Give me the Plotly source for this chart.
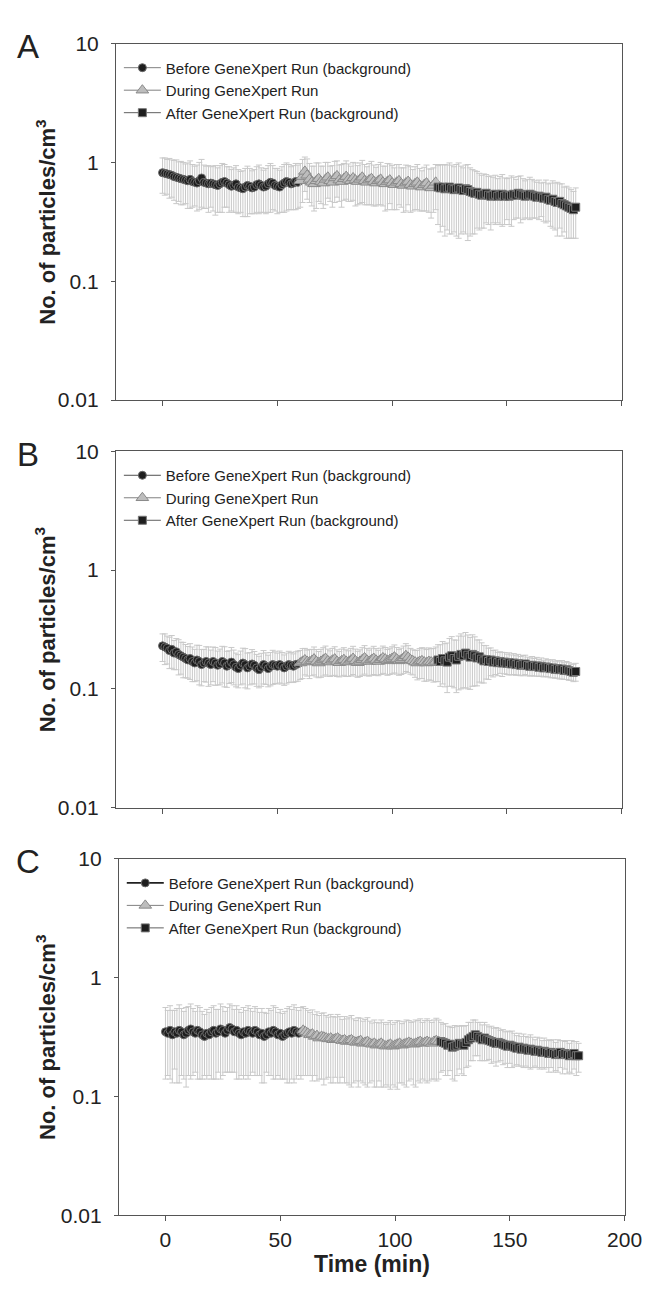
import plotly.graph_objects as go

# ---------------- data ----------------
t_before = list(range(0, 60))
t_during = list(range(60, 120))
t_after = list(range(120, 181))

series_names = ["Before GeneXpert Run (background)", "During GeneXpert Run",
                "After GeneXpert Run (background)"]
panel_labels = ["A", "B", "C"]
y_tickvals = [0.01, 0.1, 1, 10]
y_ticktext = ["0.01", "0.1", "1", "10"]
x_tickvals = [0, 50, 100, 150, 200]

# Panel A
a_before = [0.82, 0.81, 0.80, 0.79, 0.78, 0.76, 0.75, 0.74, 0.73, 0.72,
            0.71, 0.70, 0.72, 0.69, 0.68, 0.67, 0.70, 0.74, 0.68, 0.67,
            0.66, 0.67, 0.66, 0.65, 0.64, 0.66, 0.68, 0.69, 0.67, 0.65,
            0.63, 0.64, 0.66, 0.62, 0.61, 0.60, 0.62, 0.64, 0.63, 0.61,
            0.62, 0.65, 0.66, 0.64, 0.62, 0.63, 0.66, 0.68, 0.67, 0.64,
            0.63, 0.62, 0.65, 0.67, 0.69, 0.68, 0.66, 0.67, 0.69, 0.68]
a_during = [0.70, 0.76, 0.84, 0.78, 0.72, 0.68, 0.66, 0.70, 0.73, 0.69,
            0.67, 0.72, 0.75, 0.70, 0.68, 0.74, 0.77, 0.71, 0.69, 0.73,
            0.76, 0.72, 0.70, 0.74, 0.71, 0.69, 0.72, 0.75, 0.70, 0.68,
            0.71, 0.73, 0.69, 0.67, 0.70, 0.72, 0.68, 0.66, 0.69, 0.71,
            0.67, 0.65, 0.68, 0.70, 0.66, 0.64, 0.67, 0.69, 0.65, 0.63,
            0.66, 0.68, 0.64, 0.62, 0.65, 0.67, 0.63, 0.61, 0.64, 0.68]
a_after = [0.62, 0.61, 0.62, 0.60, 0.61, 0.62, 0.60, 0.59, 0.60, 0.61,
           0.59, 0.58, 0.60, 0.59, 0.57, 0.56, 0.55, 0.56, 0.54, 0.53,
           0.54, 0.55, 0.53, 0.52, 0.53, 0.54, 0.52, 0.53, 0.54, 0.52,
           0.53, 0.52, 0.53, 0.54, 0.53, 0.55, 0.54, 0.53, 0.52, 0.53,
           0.54, 0.53, 0.52, 0.51, 0.52, 0.51, 0.50, 0.51, 0.49, 0.48,
           0.49, 0.47, 0.46, 0.47, 0.45, 0.44, 0.43, 0.42, 0.41, 0.40,
           0.42]
a_before_err = [0.27, 0.28, 0.26, 0.29, 0.27, 0.28, 0.30, 0.27, 0.29, 0.28,
                0.26, 0.29, 0.31, 0.27, 0.25, 0.28, 0.30, 0.32, 0.27, 0.26,
                0.28, 0.25, 0.27, 0.29, 0.26, 0.28, 0.30, 0.27, 0.25, 0.27,
                0.24, 0.26, 0.28, 0.25, 0.23, 0.25, 0.27, 0.29, 0.26, 0.24,
                0.25, 0.27, 0.29, 0.26, 0.24, 0.26, 0.28, 0.30, 0.27, 0.25,
                0.26, 0.24, 0.27, 0.29, 0.30, 0.28, 0.26, 0.27, 0.29, 0.27]
a_during_err = [0.28, 0.30, 0.27, 0.29, 0.26, 0.25, 0.27, 0.29, 0.26, 0.24,
                0.26, 0.28, 0.25, 0.23, 0.26, 0.28, 0.26, 0.24, 0.27, 0.25,
                0.27, 0.25, 0.23, 0.26, 0.28, 0.25, 0.27, 0.29, 0.26, 0.24,
                0.27, 0.29, 0.26, 0.24, 0.26, 0.28, 0.25, 0.27, 0.29, 0.26,
                0.27, 0.25, 0.28, 0.26, 0.24, 0.26, 0.28, 0.25, 0.27, 0.24,
                0.26, 0.28, 0.25, 0.23, 0.26, 0.28, 0.25, 0.27, 0.26, 0.28]
a_after_err = [0.32, 0.35, 0.33, 0.36, 0.34, 0.37, 0.35, 0.33, 0.36, 0.38,
               0.34, 0.32, 0.35, 0.37, 0.33, 0.31, 0.30, 0.28, 0.27, 0.25,
               0.26, 0.24, 0.23, 0.25, 0.22, 0.24, 0.21, 0.23, 0.25, 0.22,
               0.20, 0.22, 0.24, 0.21, 0.19, 0.21, 0.23, 0.20, 0.18, 0.19,
               0.21, 0.19, 0.18, 0.17, 0.19, 0.16, 0.18, 0.20, 0.17, 0.19,
               0.21, 0.20, 0.22, 0.19, 0.21, 0.18, 0.20, 0.19, 0.18, 0.17,
               0.19]

# Panel B
b_before = [0.230, 0.225, 0.220, 0.210, 0.215, 0.200, 0.205, 0.195, 0.190, 0.185,
            0.180, 0.175, 0.180, 0.170, 0.165, 0.175, 0.170, 0.160, 0.165, 0.170,
            0.165, 0.160, 0.170, 0.165, 0.158, 0.162, 0.170, 0.165, 0.155, 0.160,
            0.168, 0.160, 0.152, 0.148, 0.158, 0.165, 0.160, 0.150, 0.155, 0.162,
            0.158, 0.150, 0.145, 0.152, 0.160, 0.155, 0.148, 0.154, 0.160, 0.158,
            0.155, 0.160, 0.156, 0.150, 0.155, 0.160, 0.158, 0.155, 0.160, 0.162]
b_during = [0.165, 0.170, 0.175, 0.170, 0.168, 0.172, 0.178, 0.170, 0.165, 0.170,
            0.175, 0.180, 0.172, 0.168, 0.174, 0.178, 0.170, 0.166, 0.172, 0.176,
            0.170, 0.168, 0.174, 0.180, 0.172, 0.166, 0.170, 0.176, 0.182, 0.174,
            0.170, 0.175, 0.180, 0.174, 0.170, 0.176, 0.182, 0.178, 0.172, 0.176,
            0.180, 0.185, 0.178, 0.172, 0.176, 0.182, 0.190, 0.184, 0.176, 0.172,
            0.168, 0.165, 0.170, 0.172, 0.168, 0.165, 0.170, 0.168, 0.166, 0.170]
b_after = [0.175, 0.170, 0.180, 0.172, 0.168, 0.185, 0.190, 0.180, 0.175, 0.188,
           0.195, 0.190, 0.200, 0.192, 0.185, 0.195, 0.190, 0.182, 0.186, 0.178,
           0.172, 0.176, 0.170, 0.175, 0.168, 0.172, 0.166, 0.170, 0.165, 0.168,
           0.164, 0.166, 0.162, 0.165, 0.160, 0.163, 0.158, 0.160, 0.162, 0.157,
           0.155, 0.158, 0.154, 0.156, 0.152, 0.155, 0.150, 0.153, 0.151, 0.148,
           0.150, 0.146, 0.148, 0.145, 0.147, 0.143, 0.145, 0.142, 0.140, 0.138,
           0.140]
b_before_err = [0.060, 0.065, 0.058, 0.062, 0.066, 0.055, 0.060, 0.064, 0.057, 0.061,
                0.056, 0.052, 0.060, 0.055, 0.050, 0.058, 0.062, 0.054, 0.050, 0.056,
                0.060, 0.052, 0.055, 0.058, 0.050, 0.054, 0.058, 0.061, 0.052, 0.049,
                0.055, 0.052, 0.048, 0.046, 0.050, 0.055, 0.058, 0.050, 0.047, 0.052,
                0.048, 0.045, 0.043, 0.047, 0.050, 0.046, 0.044, 0.048, 0.051, 0.047,
                0.045, 0.048, 0.046, 0.043, 0.045, 0.047, 0.044, 0.042, 0.045, 0.046]
b_during_err = [0.045, 0.048, 0.044, 0.042, 0.046, 0.043, 0.047, 0.044, 0.041, 0.045,
                0.047, 0.049, 0.044, 0.041, 0.045, 0.048, 0.043, 0.040, 0.044, 0.046,
                0.043, 0.041, 0.045, 0.048, 0.044, 0.041, 0.043, 0.046, 0.049, 0.045,
                0.042, 0.045, 0.048, 0.044, 0.041, 0.044, 0.047, 0.045, 0.042, 0.044,
                0.046, 0.049, 0.045, 0.042, 0.044, 0.047, 0.050, 0.047, 0.043, 0.041,
                0.043, 0.046, 0.048, 0.050, 0.052, 0.049, 0.051, 0.050, 0.052, 0.055]
b_after_err = [0.060, 0.065, 0.070, 0.068, 0.075, 0.080, 0.085, 0.078, 0.082, 0.090,
               0.095, 0.088, 0.098, 0.092, 0.086, 0.090, 0.084, 0.076, 0.072, 0.066,
               0.060, 0.055, 0.050, 0.046, 0.042, 0.040, 0.037, 0.035, 0.038, 0.034,
               0.032, 0.035, 0.031, 0.033, 0.030, 0.032, 0.029, 0.031, 0.030, 0.028,
               0.027, 0.029, 0.026, 0.028, 0.025, 0.027, 0.024, 0.026, 0.025, 0.024,
               0.026, 0.023, 0.025, 0.024, 0.026, 0.023, 0.025, 0.024, 0.022, 0.023,
               0.024]

# Panel C
c_before = [0.35, 0.34, 0.36, 0.33, 0.35, 0.34, 0.36, 0.35, 0.33, 0.34,
            0.36, 0.37, 0.35, 0.34, 0.36, 0.35, 0.33, 0.32, 0.34, 0.33,
            0.35, 0.36, 0.34, 0.35, 0.37, 0.36, 0.34, 0.36, 0.38, 0.37,
            0.35, 0.36, 0.34, 0.33, 0.35, 0.34, 0.36, 0.35, 0.34, 0.36,
            0.35, 0.33, 0.34, 0.32, 0.33, 0.35, 0.34, 0.36, 0.35, 0.33,
            0.34, 0.32, 0.33, 0.34, 0.35, 0.34, 0.36, 0.35, 0.34, 0.35]
c_during = [0.360, 0.350, 0.340, 0.330, 0.335, 0.320, 0.325, 0.310, 0.320, 0.315,
            0.310, 0.305, 0.310, 0.300, 0.305, 0.310, 0.300, 0.295, 0.300, 0.290,
            0.295, 0.300, 0.290, 0.285, 0.290, 0.295, 0.280, 0.285, 0.290, 0.280,
            0.275, 0.280, 0.270, 0.275, 0.280, 0.270, 0.265, 0.270, 0.275, 0.265,
            0.270, 0.275, 0.280, 0.270, 0.275, 0.280, 0.285, 0.280, 0.275, 0.280,
            0.285, 0.290, 0.280, 0.285, 0.290, 0.285, 0.280, 0.290, 0.295, 0.290]
c_after = [0.290, 0.285, 0.280, 0.270, 0.275, 0.260, 0.265, 0.270, 0.280, 0.275,
           0.270, 0.285, 0.300, 0.310, 0.320, 0.330, 0.320, 0.310, 0.300, 0.310,
           0.300, 0.295, 0.290, 0.285, 0.280, 0.285, 0.280, 0.275, 0.270, 0.265,
           0.270, 0.265, 0.260, 0.255, 0.260, 0.250, 0.255, 0.250, 0.245, 0.250,
           0.245, 0.240, 0.245, 0.240, 0.235, 0.240, 0.235, 0.230, 0.235, 0.230,
           0.225, 0.230, 0.235, 0.225, 0.230, 0.225, 0.220, 0.225, 0.230, 0.220,
           0.220]
c_before_err = [0.21, 0.19, 0.22, 0.20, 0.18, 0.21, 0.23, 0.20, 0.19, 0.22,
                0.21, 0.23, 0.20, 0.18, 0.22, 0.21, 0.19, 0.17, 0.20, 0.18,
                0.21, 0.22, 0.20, 0.19, 0.23, 0.21, 0.18, 0.20, 0.22, 0.21,
                0.19, 0.22, 0.20, 0.18, 0.21, 0.19, 0.22, 0.20, 0.18, 0.21,
                0.20, 0.18, 0.21, 0.19, 0.17, 0.20, 0.19, 0.22, 0.21, 0.18,
                0.20, 0.18, 0.19, 0.21, 0.22, 0.20, 0.23, 0.21, 0.19, 0.21]
c_during_err = [0.21, 0.20, 0.19, 0.18, 0.20, 0.17, 0.19, 0.17, 0.18, 0.19,
                0.17, 0.16, 0.18, 0.17, 0.16, 0.18, 0.17, 0.15, 0.17, 0.16,
                0.17, 0.18, 0.16, 0.15, 0.17, 0.16, 0.15, 0.16, 0.17, 0.15,
                0.14, 0.16, 0.15, 0.14, 0.16, 0.15, 0.14, 0.15, 0.16, 0.14,
                0.15, 0.16, 0.15, 0.14, 0.15, 0.16, 0.15, 0.14, 0.15, 0.16,
                0.15, 0.16, 0.14, 0.15, 0.16, 0.15, 0.14, 0.15, 0.16, 0.15]
c_after_err = [0.13, 0.12, 0.13, 0.12, 0.11, 0.12, 0.13, 0.12, 0.11, 0.12,
               0.12, 0.11, 0.12, 0.11, 0.12, 0.11, 0.10, 0.11, 0.10, 0.11,
               0.10, 0.09, 0.10, 0.09, 0.10, 0.09, 0.08, 0.09, 0.08, 0.09,
               0.08, 0.09, 0.08, 0.07, 0.08, 0.07, 0.08, 0.07, 0.07, 0.08,
               0.07, 0.06, 0.07, 0.07, 0.06, 0.07, 0.06, 0.07, 0.06, 0.07,
               0.06, 0.07, 0.06, 0.07, 0.06, 0.07, 0.06, 0.07, 0.06, 0.07,
               0.06]

panels = [
    (a_before, a_during, a_after, a_before_err, a_during_err, a_after_err),
    (b_before, b_during, b_after, b_before_err, b_during_err, b_after_err),
    (c_before, c_during, c_after, c_before_err, c_during_err, c_after_err),
]

# ---------------- layout geometry (pixels) ----------------
W, H = 654, 1290
x_px = [(111, 631), (111, 631), (114, 634)]
y_px = [(24, 387), (439, 802), (854, 1217)]

FONT = "Liberation Sans, Arial, sans-serif"
ERR_COLOR = "#c9c9c9"
AXIS_COLOR = "#555555"
TXT = "#222222"

fig = go.Figure()

before_line = [dict(color="#808080", width=1), dict(color="#505050", width=1),
               dict(color="#202020", width=1.6)]

for i, (yb, yd, ya, eb, ed, ea) in enumerate(panels):
    xa = "x" if i == 0 else f"x{i+1}"
    ya_ = "y" if i == 0 else f"y{i+1}"
    lg = "legend" if i == 0 else f"legend{i+1}"
    specs = [
        (t_before, yb, eb, series_names[0],
         dict(symbol="circle", size=8, color="#1e1e1e", line=dict(color="#6a6a6a", width=1)),
         before_line[i]),
        (t_during, yd, ed, series_names[1],
         dict(symbol="triangle-up", size=11, color="#bdbdbd", line=dict(color="#8a8a8a", width=1)),
         dict(color="#808080", width=1)),
        (t_after, ya, ea, series_names[2],
         dict(symbol="square", size=8, color="#1e1e1e", line=dict(color="#777777", width=1)),
         dict(color="#606060", width=1)),
    ]
    for k, (tx, vy, ey, name, mk, ln) in enumerate(specs):
        fig.add_trace(go.Scatter(
            x=tx, y=vy, name=name, mode="lines+markers",
            xaxis=xa, yaxis=ya_, legend=lg, legendgroup=f"g{i}{k}",
            marker=mk, line=ln,
            error_y=dict(type="data", array=ey, visible=True,
                         color=ERR_COLOR, thickness=1, width=3),
        ))

layout = dict(
    width=W, height=H, margin=dict(l=0, r=0, t=0, b=0),
    paper_bgcolor="white", plot_bgcolor="white",
    font=dict(family=FONT, color=TXT),
    showlegend=True,
)

annotations = []
for i in range(3):
    (x0, x1), (y0, y1) = x_px[i], y_px[i]
    xk = "xaxis" if i == 0 else f"xaxis{i+1}"
    yk = "yaxis" if i == 0 else f"yaxis{i+1}"
    yref = "y" if i == 0 else f"y{i+1}"
    xref = "x" if i == 0 else f"x{i+1}"
    layout[xk] = dict(
        domain=[x0 / W, x1 / W], range=[-20.3, 200], anchor=yref,
        tickvals=x_tickvals, ticks="outside", ticklen=5, tickcolor=AXIS_COLOR,
        showline=True, linecolor=AXIS_COLOR, linewidth=1, mirror=True,
        showgrid=False, zeroline=False, showticklabels=(i == 2),
        tickfont=dict(size=21, family=FONT, color=TXT),
    )
    layout[yk] = dict(
        domain=[1 - y1 / H, 1 - y0 / H], type="log", range=[-2, 1], anchor=xref,
        tickvals=y_tickvals, ticktext=y_ticktext, ticks="outside", ticklen=4,
        tickcolor=AXIS_COLOR, showline=True, linecolor=AXIS_COLOR, linewidth=1,
        mirror=True, showgrid=False, zeroline=False,
        tickfont=dict(size=21, family=FONT, color=TXT),
        ticklabelstandoff=8,
    )
    lg = "legend" if i == 0 else f"legend{i+1}"
    layout[lg] = dict(
        x=(x0 + 3) / W, y=1 - (y0 + 8) / H, xanchor="left", yanchor="top",
        bgcolor="rgba(0,0,0,0)", borderwidth=0,
        font=dict(size=15, family=FONT, color=TXT),
        tracegroupgap=0, itemwidth=37,
    )
    annotations.append(dict(
        text="<b>No. of particles/cm<sup>3</sup></b>", textangle=-90,
        x=39 / W, y=1 - ((y0 + y1) / 2) / H, xref="paper", yref="paper",
        showarrow=False, font=dict(size=22, family=FONT, color=TXT),
        xanchor="center", yanchor="middle",
    ))
    annotations.append(dict(
        text=panel_labels[i], x=21 / W, y=1 - (y0 + 3) / H, xref="paper", yref="paper",
        showarrow=False, font=dict(size=33, family=FONT, color=TXT),
        xanchor="center", yanchor="middle",
    ))

annotations.append(dict(
    text="<b>Time (min)</b>", x=((x_px[2][0] + x_px[2][1]) / 2) / W, y=1 - 1267 / H,
    xref="paper", yref="paper", showarrow=False,
    font=dict(size=23, family=FONT, color=TXT), xanchor="center", yanchor="middle",
))
layout["annotations"] = annotations

fig.update_layout(**layout)
fig.write_html("out.html")
